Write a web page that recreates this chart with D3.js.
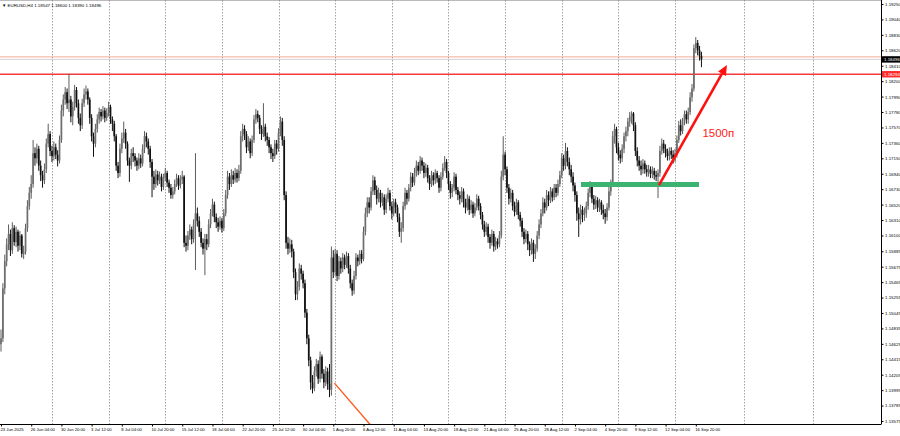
<!DOCTYPE html>
<html><head><meta charset="utf-8">
<script src="https://cdn.jsdelivr.net/npm/d3@7"></script>
<style>html,body{margin:0;padding:0;background:#fff}svg{display:block}</style>
</head><body>
<svg id="c" width="900" height="436"></svg>
<script>
// ---------------- DATA (EURUSD H4, bar index 0 = 23 Jun 2025 12:00) ----------------
const firstOpen = 1.1462;
const closes = [
1.1470,1.1538,1.1575,1.1598,1.1612,1.1590,1.1620,1.1601,1.1615,1.1596,
1.1610,1.1585,1.1588,1.1620,1.1650,1.1668,1.1680,1.1722,1.1715,1.1728,
1.1705,1.1692,1.1685,1.1700,1.1735,1.1748,1.1725,1.1718,1.1730,1.1720,
1.1712,1.1740,1.1780,1.1795,1.1805,1.1790,1.1795,1.1772,1.1785,1.1808,
1.1790,1.1770,1.1760,1.1790,1.1802,1.1806,1.1795,1.1770,1.1745,1.1735,
1.1755,1.1768,1.1778,1.1772,1.1780,1.1770,1.1777,1.1785,1.1768,1.1762,
1.1745,1.1705,1.1695,1.1728,1.1742,1.1750,1.1735,1.1712,1.1705,1.1722,
1.1718,1.1712,1.1705,1.1715,1.1708,1.1728,1.1745,1.1738,1.1728,1.1710,
1.1690,1.1680,1.1693,1.1685,1.1690,1.1676,1.1688,1.1695,1.1682,1.1675,
1.1665,1.1670,1.1680,1.1688,1.1678,1.1686,1.1690,1.1600,1.1596,1.1610,
1.1618,1.1605,1.1625,1.1640,1.1630,1.1615,1.1600,1.1592,1.1605,1.1598,
1.1625,1.1640,1.1652,1.1635,1.1628,1.1622,1.1630,1.1620,1.1640,1.1665,
1.1690,1.1680,1.1692,1.1686,1.1695,1.1688,1.1698,1.1745,1.1755,1.1748,
1.1730,1.1738,1.1722,1.1740,1.1768,1.1775,1.1770,1.1755,1.1748,1.1758,
1.1745,1.1740,1.1730,1.1722,1.1718,1.1735,1.1728,1.1750,1.1765,1.1740,
1.1665,1.1600,1.1592,1.1598,1.1588,1.1560,1.1530,1.1540,1.1565,1.1558,
1.1545,1.1505,1.1470,1.1440,1.1410,1.1402,1.1425,1.1435,1.1415,1.1445,
1.1422,1.1410,1.1425,1.1408,1.1400,1.1580,1.1560,1.1585,1.1555,1.1575,
1.1565,1.1580,1.1570,1.1582,1.1565,1.1545,1.1535,1.1555,1.1580,1.1575,
1.1585,1.1578,1.1615,1.1640,1.1655,1.1648,1.1670,1.1685,1.1672,1.1660,
1.1668,1.1655,1.1662,1.1645,1.1660,1.1668,1.1650,1.1640,1.1655,1.1648,
1.1635,1.1615,1.1620,1.1650,1.1668,1.1660,1.1675,1.1690,1.1682,1.1695,
1.1705,1.1698,1.1712,1.1705,1.1695,1.1702,1.1688,1.1680,1.1692,1.1685,
1.1695,1.1688,1.1675,1.1690,1.1702,1.1710,1.1695,1.1680,1.1668,1.1675,
1.1690,1.1672,1.1665,1.1660,1.1670,1.1655,1.1648,1.1660,1.1645,1.1652,
1.1640,1.1648,1.1660,1.1650,1.1638,1.1625,1.1615,1.1622,1.1608,1.1600,
1.1612,1.1595,1.1602,1.1598,1.1610,1.1690,1.1720,1.1700,1.1675,1.1660,
1.1668,1.1650,1.1642,1.1655,1.1638,1.1630,1.1615,1.1605,1.1612,1.1598,
1.1590,1.1600,1.1585,1.1592,1.1610,1.1625,1.1640,1.1655,1.1648,1.1665,
1.1658,1.1670,1.1662,1.1675,1.1668,1.1680,1.1692,1.1715,1.1705,1.1725,
1.1710,1.1700,1.1690,1.1678,1.1665,1.1640,1.1632,1.1645,1.1638,1.1640,
1.1650,1.1668,1.1676,1.1660,1.1652,1.1658,1.1648,1.1655,1.1645,1.1640,
1.1635,1.1648,1.1670,1.1680,1.1745,1.1755,1.1730,1.1720,1.1715,1.1728,
1.1745,1.1752,1.1765,1.1772,1.1776,1.1760,1.1725,1.1712,1.1705,1.1700,
1.1708,1.1700,1.1696,1.1700,1.1694,1.1698,1.1692,1.1690,1.1695,1.1725,
1.1735,1.1728,1.1722,1.1718,1.1725,1.1720,1.1715,1.1722,1.1740,1.1760,
1.1752,1.1765,1.1775,1.1768,1.1778,1.1798,1.1810,1.1865,1.1872,1.1862,
1.18547,1.18496];
const highs = [
1.1482,1.1545,1.1584,1.1606,1.1625,1.1618,1.1628,1.1624,1.1622,1.1618,
1.1616,1.1612,1.1596,1.1626,1.1658,1.1676,1.1692,1.1740,1.1730,1.1735,
1.1732,1.1712,1.1698,1.1708,1.1742,1.1762,1.1752,1.1732,1.1738,1.1735,
1.1726,1.1746,1.1788,1.1802,1.1812,1.1810,1.1830,1.1800,1.1792,1.1815,
1.1812,1.1795,1.1776,1.1796,1.1810,1.1814,1.1810,1.1798,1.1775,1.1750,
1.1762,1.1775,1.1784,1.1782,1.1786,1.1784,1.1783,1.1792,1.1788,1.1772,
1.1766,1.1748,1.1710,1.1735,1.1750,1.1765,1.1755,1.1738,1.1716,1.1728,
1.1730,1.1722,1.1716,1.1722,1.1720,1.1734,1.1752,1.1750,1.1742,1.1732,
1.1714,1.1698,1.1700,1.1698,1.1697,1.1694,1.1694,1.1702,1.1698,1.1686,
1.1680,1.1676,1.1686,1.1694,1.1692,1.1692,1.1698,1.1692,1.1610,1.1616,
1.1625,1.1622,1.1632,1.1722,1.1648,1.1636,1.1620,1.1606,1.1612,1.1612,
1.1632,1.1646,1.1660,1.1656,1.1640,1.1634,1.1636,1.1634,1.1646,1.1672,
1.1698,1.1695,1.1700,1.1698,1.1702,1.1700,1.1706,1.1752,1.1762,1.1760,
1.1752,1.1745,1.1742,1.1746,1.1774,1.1782,1.1780,1.1774,1.1760,1.1790,
1.1762,1.1750,1.1744,1.1734,1.1728,1.1740,1.1740,1.1756,1.1772,1.1770,
1.1745,1.1670,1.1608,1.1606,1.1604,1.1592,1.1565,1.1548,1.1572,1.1570,
1.1562,1.1550,1.1510,1.1475,1.1445,1.1420,1.1432,1.1442,1.1440,1.1452,
1.1448,1.1428,1.1432,1.1430,1.1435,1.1595,1.1590,1.1592,1.1590,1.1582,
1.1580,1.1586,1.1584,1.1588,1.1586,1.1570,1.1550,1.1562,1.1586,1.1584,
1.1590,1.1590,1.1622,1.1648,1.1662,1.1662,1.1676,1.1692,1.1690,1.1678,
1.1675,1.1672,1.1668,1.1666,1.1666,1.1675,1.1672,1.1656,1.1660,1.1660,
1.1652,1.1640,1.1628,1.1656,1.1675,1.1672,1.1680,1.1696,1.1695,1.1702,
1.1712,1.1710,1.1718,1.1716,1.1710,1.1708,1.1706,1.1692,1.1698,1.1696,
1.1700,1.1698,1.1692,1.1696,1.1708,1.1718,1.1714,1.1698,1.1684,1.1680,
1.1696,1.1694,1.1676,1.1670,1.1676,1.1674,1.1660,1.1666,1.1664,1.1658,
1.1656,1.1654,1.1666,1.1664,1.1654,1.1642,1.1630,1.1628,1.1626,1.1612,
1.1618,1.1616,1.1608,1.1606,1.1616,1.1698,1.1745,1.1724,1.1704,1.1680,
1.1674,1.1672,1.1656,1.1660,1.1658,1.1642,1.1634,1.1620,1.1618,1.1616,
1.1602,1.1606,1.1604,1.1598,1.1616,1.1632,1.1646,1.1662,1.1660,1.1672,
1.1670,1.1676,1.1674,1.1680,1.1680,1.1686,1.1698,1.1722,1.1720,1.1736,
1.1730,1.1716,1.1706,1.1696,1.1682,1.1670,1.1648,1.1652,1.1650,1.1648,
1.1656,1.1674,1.1684,1.1680,1.1665,1.1664,1.1662,1.1660,1.1658,1.1652,
1.1646,1.1654,1.1676,1.1686,1.1752,1.1762,1.1758,1.1736,1.1726,1.1734,
1.1750,1.1758,1.1770,1.1778,1.1779,1.1778,1.1764,1.1730,1.1718,1.1712,
1.1714,1.1712,1.1706,1.1706,1.1704,1.1704,1.1702,1.1698,1.1700,1.1732,
1.1742,1.1740,1.1734,1.1728,1.1730,1.1730,1.1726,1.1728,1.1746,1.1766,
1.1768,1.1770,1.1780,1.1780,1.1784,1.1805,1.1816,1.1870,1.1880,1.1876,
1.1868,1.18600];
const lows = [
1.1452,1.1465,1.1530,1.1568,1.1590,1.1582,1.1585,1.1596,1.1594,1.1588,
1.1590,1.1580,1.1578,1.1584,1.1615,1.1645,1.1660,1.1675,1.1705,1.1708,
1.1698,1.1684,1.1675,1.1680,1.1695,1.1730,1.1718,1.1710,1.1712,1.1714,
1.1704,1.1708,1.1736,1.1772,1.1788,1.1782,1.1778,1.1764,1.1760,1.1780,
1.1784,1.1762,1.1752,1.1755,1.1785,1.1795,1.1788,1.1762,1.1738,1.1717,
1.1730,1.1750,1.1762,1.1765,1.1768,1.1764,1.1766,1.1772,1.1762,1.1752,
1.1738,1.1698,1.1688,1.1690,1.1722,1.1736,1.1728,1.1705,1.1683,1.1700,
1.1710,1.1704,1.1698,1.1700,1.1702,1.1704,1.1722,1.1730,1.1720,1.1702,
1.1662,1.1672,1.1675,1.1678,1.1680,1.1670,1.1672,1.1684,1.1676,1.1668,
1.1660,1.1660,1.1666,1.1676,1.1672,1.1674,1.1680,1.1594,1.1588,1.1590,
1.1604,1.1598,1.1600,1.1563,1.1622,1.1608,1.1594,1.1584,1.1556,1.1590,
1.1594,1.1620,1.1636,1.1628,1.1620,1.1615,1.1618,1.1614,1.1616,1.1636,
1.1660,1.1672,1.1676,1.1680,1.1682,1.1682,1.1684,1.1694,1.1738,1.1740,
1.1722,1.1725,1.1715,1.1718,1.1736,1.1762,1.1764,1.1748,1.1740,1.1744,
1.1738,1.1732,1.1722,1.1714,1.1710,1.1714,1.1720,1.1724,1.1745,1.1732,
1.1658,1.1592,1.1584,1.1586,1.1580,1.1552,1.1522,1.1522,1.1535,1.1550,
1.1538,1.1498,1.1462,1.1432,1.1400,1.1395,1.1398,1.1418,1.1408,1.1410,
1.1415,1.1402,1.1405,1.1400,1.1390,1.1392,1.1552,1.1555,1.1548,1.1550,
1.1558,1.1560,1.1564,1.1566,1.1558,1.1538,1.1528,1.1530,1.1550,1.1568,
1.1570,1.1572,1.1575,1.1610,1.1635,1.1640,1.1644,1.1665,1.1665,1.1652,
1.1655,1.1648,1.1650,1.1638,1.1640,1.1655,1.1644,1.1632,1.1636,1.1640,
1.1628,1.1608,1.1600,1.1615,1.1645,1.1652,1.1656,1.1670,1.1676,1.1678,
1.1690,1.1692,1.1694,1.1698,1.1688,1.1690,1.1682,1.1672,1.1676,1.1678,
1.1680,1.1682,1.1668,1.1670,1.1686,1.1698,1.1688,1.1672,1.1660,1.1662,
1.1670,1.1666,1.1658,1.1652,1.1655,1.1648,1.1640,1.1644,1.1638,1.1640,
1.1634,1.1636,1.1644,1.1644,1.1632,1.1618,1.1608,1.1610,1.1600,1.1592,
1.1596,1.1588,1.1590,1.1592,1.1594,1.1606,1.1685,1.1692,1.1668,1.1652,
1.1655,1.1644,1.1636,1.1638,1.1632,1.1622,1.1608,1.1598,1.1600,1.1590,
1.1582,1.1584,1.1574,1.1578,1.1588,1.1605,1.1620,1.1636,1.1640,1.1644,
1.1650,1.1654,1.1656,1.1658,1.1662,1.1664,1.1676,1.1688,1.1698,1.1700,
1.1704,1.1692,1.1682,1.1670,1.1656,1.1630,1.1608,1.1625,1.1628,1.1630,
1.1634,1.1645,1.1662,1.1654,1.1645,1.1646,1.1642,1.1642,1.1638,1.1632,
1.1626,1.1630,1.1644,1.1664,1.1676,1.1735,1.1722,1.1712,1.1708,1.1710,
1.1722,1.1738,1.1745,1.1758,1.1762,1.1752,1.1718,1.1704,1.1698,1.1692,
1.1694,1.1694,1.1690,1.1690,1.1688,1.1688,1.1686,1.1684,1.1661,1.1690,
1.1720,1.1722,1.1716,1.1712,1.1712,1.1714,1.1708,1.1710,1.1716,1.1736,
1.1746,1.1748,1.1760,1.1762,1.1762,1.1774,1.1792,1.1806,1.1858,1.1855,
1.1848,1.18390];

const timeLabels = ["23 Jun 2025","26 Jun 04:00","30 Jun 20:00","3 Jul 12:00","8 Jul 04:00","10 Jul 20:00",
  "15 Jul 12:00","18 Jul 04:00","22 Jul 20:00","25 Jul 12:00","30 Jul 04:00","1 Aug 20:00","6 Aug 12:00",
  "11 Aug 04:00","13 Aug 20:00","18 Aug 12:00","21 Aug 04:00","25 Aug 20:00","28 Aug 12:00","2 Sep 04:00",
  "4 Sep 20:00","9 Sep 12:00","12 Sep 04:00","16 Sep 20:00"];
const timeLabelBars = [0,16,32,48,64,80,96,112,128,144,160,176,192,208,224,240,256,272,288,304,320,336,352,368];
const priceTicks = [1.19250,1.19040,1.18830,1.18620,1.18410,1.18200,1.17990,1.17780,1.17570,1.17360,
  1.17150,1.16940,1.16730,1.16520,1.16310,1.16100,1.15885,1.15675,1.15465,1.15255,1.15045,1.14835,
  1.14625,1.14415,1.14205,1.13995,1.13785,1.13575];
const gridBars = [27,57,87,117,147,177,207,237,267,297,327,357,393.5,430];
const titleText = "▼ EURUSD,H4  1.18547 1.18600 1.18390 1.18496";
const resistanceLevel = 1.18294;
const bidPrice = 1.18496;
const upperLevel = 1.18530;
const supportZone = {fromBar: 307.2, toBar: 369.7, price: 1.16793};
const arrowStart = {bar: 348.5, price: 1.16786};
const arrowEnd = {bar: 384.5, price: 1.18420};
const arrowLabel = "1500п";
const arrowLabelAt = {bar: 371.5, price: 1.17440};
const trendStart = {bar: 176.6, price: 1.14091};
const trendEnd = {bar: 196.2, price: 1.13506};

// ---------------- DRAW ----------------
const W = 900, H = 436, plotR = 881, plotB = 424;
const FONT = "'Liberation Sans', Arial, sans-serif";
const svg = d3.select("#c");
const x = d3.scaleLinear().domain([0, 466]).range([1, 1 + 466 * 1.888]);
const y = d3.scaleLinear().domain([1.13575, 1.19250]).range([421, 4]);

svg.append("rect").attr("width", W).attr("height", H).attr("fill", "#fff");
svg.append("defs").append("clipPath").attr("id", "plot")
  .append("rect").attr("x", 0).attr("y", 0).attr("width", plotR).attr("height", plotB);

const g = svg.append("g").attr("clip-path", "url(#plot)");

// top thin border
g.append("line").attr("x1", 0).attr("x2", plotR).attr("y1", 0.5).attr("y2", 0.5)
  .attr("stroke", "#bbb").attr("stroke-width", 1);

// vertical dotted grid
g.selectAll(".grid").data(gridBars).join("line")
  .attr("x1", d => Math.round(x(d)) + 0.5).attr("x2", d => Math.round(x(d)) + 0.5)
  .attr("y1", 0).attr("y2", plotB)
  .attr("stroke", "#8a8a8a").attr("stroke-width", 0.8).attr("stroke-dasharray", "1.5,1.5");

// horizontal levels
g.append("line").attr("x1", 0).attr("x2", plotR).attr("y1", y(upperLevel)).attr("y2", y(upperLevel))
  .attr("stroke", "#f2a08a").attr("stroke-width", 0.9);
g.append("line").attr("x1", 0).attr("x2", plotR).attr("y1", y(bidPrice)).attr("y2", y(bidPrice))
  .attr("stroke", "#c8c8c8").attr("stroke-width", 0.8);
g.append("line").attr("x1", 0).attr("x2", plotR).attr("y1", y(resistanceLevel)).attr("y2", y(resistanceLevel))
  .attr("stroke", "#f03c3c").attr("stroke-width", 1.4);

// candles
const bars = closes.map((c, i) => ({
  i, o: i === 0 ? firstOpen : closes[i - 1], c, h: highs[i], l: lows[i]
}));
const bullCol = "#5c5c5c", bearCol = "#101010";
const cg = g.append("g");
cg.selectAll("line.w").data(bars).join("line")
  .attr("class", "w")
  .attr("x1", d => x(d.i)).attr("x2", d => x(d.i))
  .attr("y1", d => y(Math.max(d.h, d.o, d.c))).attr("y2", d => y(Math.min(d.l, d.o, d.c)))
  .attr("stroke", d => d.c >= d.o ? bullCol : bearCol).attr("stroke-width", 1);
cg.selectAll("rect.b").data(bars).join("rect")
  .attr("class", "b")
  .attr("x", d => x(d.i) - 0.85).attr("width", 1.7)
  .attr("y", d => y(Math.max(d.o, d.c)))
  .attr("height", d => Math.max(0.8, Math.abs(y(d.o) - y(d.c))))
  .attr("fill", d => d.c >= d.o ? "#6e6e6e" : bearCol);

// orange trend line
g.append("line")
  .attr("x1", x(trendStart.bar)).attr("y1", y(trendStart.price))
  .attr("x2", x(trendEnd.bar)).attr("y2", y(trendEnd.price))
  .attr("stroke", "#ff5a1f").attr("stroke-width", 1.4);

// green support zone
g.append("line")
  .attr("x1", x(supportZone.fromBar)).attr("x2", x(supportZone.toBar))
  .attr("y1", y(supportZone.price)).attr("y2", y(supportZone.price))
  .attr("stroke", "#3cb371").attr("stroke-width", 5);

// red arrow
const ax1 = x(arrowStart.bar), ay1 = y(arrowStart.price), ax2 = x(arrowEnd.bar), ay2 = y(arrowEnd.price);
const ang = Math.atan2(ay2 - ay1, ax2 - ax1);
const headL = 10, headW = 4.5;
const bx = ax2 - headL * Math.cos(ang), by = ay2 - headL * Math.sin(ang);
g.append("line").attr("x1", ax1).attr("y1", ay1).attr("x2", bx).attr("y2", by)
  .attr("stroke", "#ff1010").attr("stroke-width", 2.6);
g.append("path")
  .attr("d", `M${ax2},${ay2} L${bx + headW * Math.sin(ang)},${by - headW * Math.cos(ang)} L${bx - headW * Math.sin(ang)},${by + headW * Math.cos(ang)} Z`)
  .attr("fill", "#ff1010");
g.append("text").attr("x", x(arrowLabelAt.bar)).attr("y", y(arrowLabelAt.price))
  .attr("font-family", FONT).attr("font-size", 11.5)
  .attr("fill", "#ff2020").text(arrowLabel);

// price axis
const ya = svg.append("g").attr("transform", `translate(${plotR + 0.5},0)`)
  .call(d3.axisRight(y).tickValues(priceTicks).tickSize(2).tickPadding(1.5).tickFormat(d3.format(".5f")));
ya.select(".domain").attr("d", `M0,0V${plotB}`).attr("stroke", "#000");
ya.selectAll(".tick line").attr("stroke", "#000");
ya.selectAll("text").attr("font-family", FONT).attr("font-size", 4.4).attr("fill", "#000");

// time axis
const xa = svg.append("g").attr("transform", `translate(0,${plotB + 0.5})`)
  .call(d3.axisBottom(x).tickValues(timeLabelBars).tickSize(2).tickPadding(2)
    .tickFormat((d, i) => timeLabels[i]));
xa.select(".domain").attr("d", `M0,0H${plotR + 0.5}`).attr("stroke", "#000");
xa.selectAll(".tick line").attr("stroke", "#000");
xa.selectAll("text").attr("text-anchor", "start").attr("dx", -1)
  .attr("font-family", FONT).attr("font-size", 4.2).attr("fill", "#000");

// price tags on axis
function tag(price, bg, label) {
  const yy = y(price);
  svg.append("rect").attr("x", plotR + 1).attr("y", yy - 3.2).attr("width", 18).attr("height", 6.4).attr("fill", bg);
  svg.append("text").attr("x", plotR + 3).attr("y", yy + 1.5)
    .attr("font-family", FONT).attr("font-size", 4.4)
    .attr("fill", "#fff").text(label);
}
tag(bidPrice, "#000", d3.format(".5f")(bidPrice));
tag(resistanceLevel, "#ff2a2a", d3.format(".5f")(resistanceLevel));

// title
svg.append("text").attr("x", 2).attr("y", 6.5)
  .attr("font-family", FONT).attr("font-size", 4.4)
  .attr("fill", "#000").text(titleText);
</script>
</body></html>
